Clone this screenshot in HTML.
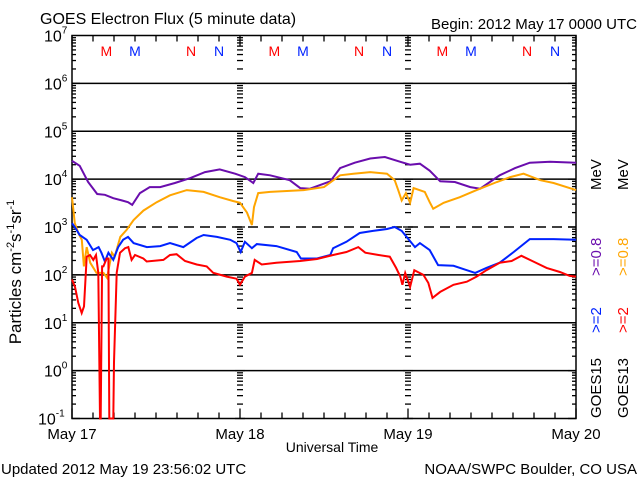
<!DOCTYPE html>
<html><head><meta charset="utf-8"><style>
html,body{margin:0;padding:0;background:#fff;}
svg{display:block;font-family:"Liberation Sans",sans-serif;}
</style></head><body>
<svg id="chart" width="640" height="480" viewBox="0 0 640 480" xmlns="http://www.w3.org/2000/svg">
<rect width="640" height="480" fill="#fff"/>
<text x="40" y="24" font-size="16">GOES Electron Flux (5 minute data)</text>
<text x="637" y="29" font-size="15" text-anchor="end">Begin: 2012 May 17 0000 UTC</text>
<text x="332" y="452" font-size="14" text-anchor="middle">Universal Time</text>
<text x="1" y="474" font-size="15">Updated 2012 May 19 23:56:02 UTC</text>
<text x="637" y="474" font-size="15" text-anchor="end">NOAA/SWPC Boulder, CO USA</text>
<text transform="translate(21,272) rotate(-90)" font-size="17" text-anchor="middle">Particles cm<tspan dy="-7" font-size="11">-2</tspan><tspan dy="7">s</tspan><tspan dy="-7" font-size="11">-1</tspan><tspan dy="7">sr</tspan><tspan dy="-7" font-size="11">-1</tspan></text>
<g font-size="15">
<text transform="translate(601,418) rotate(-90)" fill="#000">GOES15</text>
<text transform="translate(601,333) rotate(-90)" fill="#0022ff">&gt;=2</text>
<text transform="translate(601,276) rotate(-90)" fill="#6a0dad">&gt;=0.8</text>
<text transform="translate(601,190) rotate(-90)" fill="#000">MeV</text>
</g>
<g font-size="15">
<text transform="translate(628,418) rotate(-90)" fill="#000">GOES13</text>
<text transform="translate(628,333) rotate(-90)" fill="#ff0000">&gt;=2</text>
<text transform="translate(628,276) rotate(-90)" fill="#ffa500">&gt;=0.8</text>
<text transform="translate(628,190) rotate(-90)" fill="#000">MeV</text>
</g>
<g id="axes"></g>
<g id="series"></g>
</svg>
<script>
const dayLabels=["May 17","May 18","May 19","May 20"];
const decadeExps=[7,6,5,4,3,2,1,0,-1];
const markerLabels=["M","M","N","N"];
const markerHours=[4.9,9,17,21];
const markerColors=["#ff0000","#0022ff","#ff0000","#0022ff"];

const purpleHours=[0,1.1,2.3,3.6,4.7,5.9,7.1,8,8.6,9.7,11.1,12.6,14.7,16.9,19,21.1,23.3,24.7,25.9,26.6,28.3,31.1,32.6,34,36.9,38.3,40.4,42.6,44.7,46.9,48.3,49.7,51.1,52.6,54.7,56.9,58.3,59.7,61.1,63.3,65.4,68.3,72];
const purpleFlux=[2.4e4,1.9e4,8.7e3,4.9e3,4.7e3,4e3,3.6e3,3.3e3,2.9e3,5.1e3,6.8e3,6.8e3,8.3e3,1.05e4,1.4e4,1.6e4,1.3e4,1.1e4,8.3e3,1.3e4,1.2e4,9.5e3,6.5e3,6.3e3,9e3,1.7e4,2.2e4,2.7e4,2.9e4,2.3e4,2.0e4,2.1e4,1.5e4,9e3,8.7e3,6.8e3,6.3e3,8.7e3,1.2e4,1.7e4,2.2e4,2.3e4,2.2e4];

const orangeHours=[0,0.4,0.9,1.4,1.7,2.1,2.6,3.5,4.5,5.0,5.7,6.1,6.9,7.8,8.8,10.2,12.1,14,16.4,18.8,21.1,23.0,24,25,25.7,26,26.6,28.3,33.1,36,36.9,38.3,40.2,42.6,45,46.1,46.6,47.1,47.7,48.3,48.8,50.4,51.1,51.6,53.1,55.4,57.8,60.7,62.6,64.5,66.9,68.8,72];
const orangeFlux=[4.2e3,1.2e3,750,540,150,380,180,110,110,87,290,240,620,870,1.4e3,2.2e3,3.3e3,4.6e3,5.9e3,5.4e3,4.2e3,3.5e3,3.2e3,2e3,1.1e3,2.6e3,5.1e3,5.4e3,5.9e3,6.8e3,8.5e3,1.2e4,1.3e4,1.4e4,1.3e4,9.5e3,5.9e3,3.6e3,5.1e3,3.2e3,6.5e3,5.4e3,3.3e3,2.4e3,3.2e3,4.2e3,5.9e3,8.7e3,1.1e4,1.3e4,9.5e3,8.3e3,5.9e3];

const blueHours=[0,0.4,1.1,2.1,3.0,3.8,4.2,4.7,5.2,5.9,6.6,7.3,8.0,8.8,10.7,12.6,14,15.9,17.8,18.8,20.7,22.6,23.5,24.1,24.7,25.7,26.4,29.2,32.1,32.7,35,36.9,37.3,39.2,41.1,43.0,45.0,46.1,47.1,47.8,49.0,49.7,51.1,52.3,54.5,56.4,57.6,59.2,61.1,63.1,65.4,68.8,72];
const blueFlux=[1.2e3,1e3,680,540,330,380,290,190,290,205,380,540,620,460,380,400,460,380,590,680,620,540,460,300,490,360,440,400,300,220,220,260,360,490,750,830,910,1e3,830,620,380,460,330,160,155,125,110,140,180,300,560,560,540];

const redHours=[0,0.43,0.9,1.38,1.71,2.1,2.57,3.05,3.43,3.76,4.0,4.1,4.3,4.48,4.95,5.2,5.33,5.9,6.0,6.38,6.86,7.57,8.05,8.52,9.0,10.19,10.67,13.05,14,14.95,16.14,17.81,19.24,20.19,22.1,23.5,24,24.7,25.7,26.1,27.1,29.2,32.6,35,37.3,39.2,40.9,41.9,43.8,45.4,46.3,46.9,47.2,47.6,48.3,48.9,50.2,50.9,51.5,52.6,54.5,56.4,57.8,59.2,61.1,62.8,64.2,65.9,67.8,69.7,71.1,72];
const redFlux=[80,56,26,16,22,240,260,205,260,110,0.1,0.1,150,150,220,220,0.1,0.1,1.5,110,290,360,380,205,260,220,190,205,260,270,195,165,150,110,92,83,62,92,110,205,165,180,195,215,260,300,380,290,260,240,140,92,62,110,56,125,100,68,33,44,62,72,92,125,180,195,250,190,140,115,95,92];

const X0=72,X1=576,YTOP=35.5,YBOT=418.5,NS="http://www.w3.org/2000/svg";
const hourScale=h=>X0+(X1-X0)*h/72;
const fluxScale=v=>{const l=Math.log10(Math.max(v,0.1));return YBOT-(YBOT-YTOP)*(l+1)/8;};
function mk(tag,attrs,parent){const e=document.createElementNS(NS,tag);for(const k in attrs)e.setAttribute(k,attrs[k]);parent.appendChild(e);return e;}
const axes=document.getElementById('axes'),series=document.getElementById('series');
decadeExps.forEach(function(e){
  const y=fluxScale(Math.pow(10,e));
  if(e<7&&e>-1){
    const g=mk('line',{x1:X0,x2:X1,y1:y,y2:y,stroke:'#000','stroke-width':1.5},axes);
    
    
    if(e===3)g.setAttribute('stroke-dasharray','10,6');
  }
  const t=mk('text',{x:e<0?38:44,y:y+6,'font-size':16},axes);
  
  
  t.textContent='10';
  const s=mk('tspan',{dy:-8,'font-size':10},t);s.textContent=String(e);
});
const tickXs=[X0,hourScale(24),hourScale(48),X1];
for(let e=-1;e<7;e++){for(let m=1;m<10;m++){
  const y=fluxScale(m*Math.pow(10,e));const len=m===1?8:4;
  tickXs.forEach(function(x,i){
    let x1=x,x2=x;
    if(i===0){x2=x+len;} else if(i===3){x1=x-len;} else {x1=x-len/2-1;x2=x+len/2+1;}
    const tk=mk('line',{x1:x1,x2:x2,y1:y,y2:y,stroke:'#000','stroke-width':1.3},axes);
    
    
  });
}}
for(let h=0;h<=72;h+=3){
  const x=hourScale(h);const len=h%24===0?10:6;
  const a=mk('line',{x1:x,x2:x,y1:YBOT,y2:YBOT-len,stroke:'#000','stroke-width':1.3},axes);
  
  
  const b=mk('line',{x1:x,x2:x,y1:YTOP,y2:YTOP+len,stroke:'#000','stroke-width':1.3},axes);
  
  
}
dayLabels.forEach(function(d,i){
  const t=mk('text',{x:hourScale(i*24),y:439,'font-size':15,'text-anchor':'middle'},axes);
  
  
  t.textContent=d;
});
for(let day=0;day<3;day++){markerLabels.forEach(function(l,i){
  const t=mk('text',{x:hourScale(day*24+markerHours[i]),y:56,'font-size':14,'text-anchor':'middle',fill:markerColors[i]},axes);
  
  
  t.textContent=l;
});}
const fr=mk('rect',{x:X0,y:YTOP,width:X1-X0,height:YBOT-YTOP,fill:'none',stroke:'#000','stroke-width':1.5},axes);


function drawSeries(hours,flux,color,name){
  const pts=hours.map((h,i)=>hourScale(h).toFixed(1)+','+fluxScale(flux[i]).toFixed(1)).join(' ');
  const p=mk('polyline',{points:pts,fill:'none',stroke:color,'stroke-width':2,'stroke-linejoin':'miter'},series);
  
  
}
drawSeries(purpleHours,purpleFlux,'#6a0dad','goes15-0.8mev-line');
drawSeries(orangeHours,orangeFlux,'#ffa500','goes13-0.8mev-line');
drawSeries(blueHours,blueFlux,'#0022ff','goes15-2mev-line');
drawSeries(redHours,redFlux,'#ff0000','goes13-2mev-line');
</script>
</body></html>
